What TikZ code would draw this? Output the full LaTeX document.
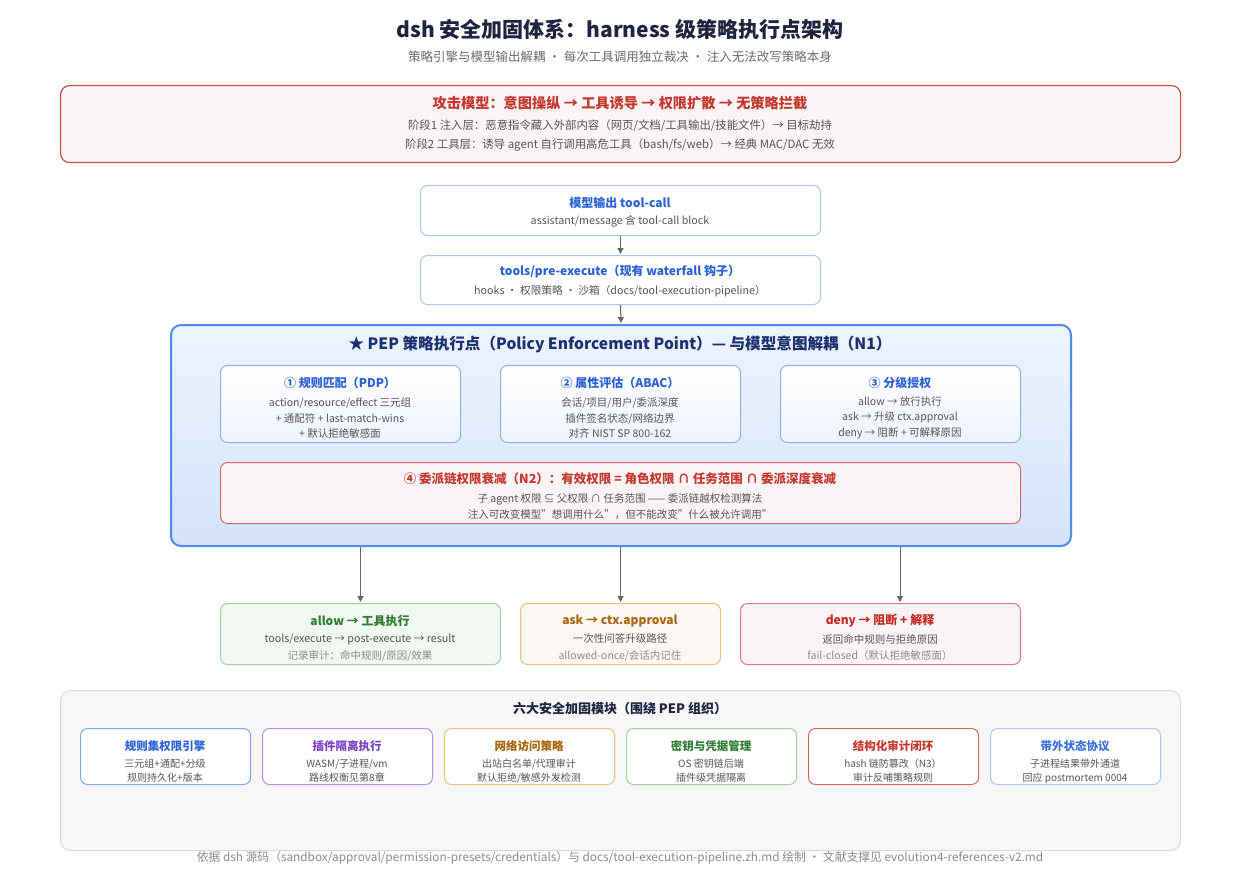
\documentclass[tikz,border=0pt]{standalone}
\usepackage{fontspec}
\setmainfont{Noto Sans CJK SC}
\usetikzlibrary{arrows.meta}
\newcommand\myfs[1]{\fontsize{#1}{#1}\selectfont}
\definecolor{titlec}{HTML}{1F2340}
\definecolor{subc}{HTML}{6B6B6B}
\definecolor{bodyc}{HTML}{555555}
\definecolor{lightc}{HTML}{8A8A8A}
\definecolor{redb}{HTML}{CC4B45}
\definecolor{redf}{HTML}{FBF4F4}
\definecolor{redt}{HTML}{C4372F}
\definecolor{blueb}{HTML}{A8C6F3}
\definecolor{bluet}{HTML}{2A62D4}
\definecolor{pepb}{HTML}{4F8AE6}
\definecolor{peptop}{HTML}{EEF4FD}
\definecolor{pepbot}{HTML}{D4E3FA}
\definecolor{pept}{HTML}{1C2F6E}
\definecolor{subb}{HTML}{8FB2EE}
\definecolor{subbot}{HTML}{EEF3FC}
\definecolor{r4b}{HTML}{CF6D6D}
\definecolor{greenb}{HTML}{9FD1A5}
\definecolor{greenf}{HTML}{F1F8F1}
\definecolor{greent}{HTML}{2E7D32}
\definecolor{orangeb}{HTML}{E8C379}
\definecolor{orangef}{HTML}{FCF7F3}
\definecolor{oranget}{HTML}{A8650B}
\definecolor{denyb}{HTML}{DD7B78}
\definecolor{denyt}{HTML}{C62828}
\definecolor{panelf}{HTML}{F7F7F7}
\definecolor{panelb}{HTML}{D9D9D9}
\definecolor{modblueb}{HTML}{7EA9F0}
\definecolor{modpurpb}{HTML}{B590E6}
\definecolor{modpurpt}{HTML}{7B3FC4}
\definecolor{modredb}{HTML}{D9655F}
\definecolor{modlbb}{HTML}{AAC7F5}
\definecolor{modlbt}{HTML}{3A6FDC}
\definecolor{arrc}{HTML}{666666}
\tikzset{
  card/.style={draw, rounded corners=7pt, line width=1pt, inner sep=0pt, anchor=north west, fill=white},
  txt/.style={inner sep=0pt, anchor=center},
  arr/.style={draw=arrc, line width=1pt, -{Triangle[length=6pt,width=6pt]}},
}
\begin{document}
\begin{tikzpicture}[x=1pt,y=-1pt]
\useasboundingbox[fill=white] (0,0) rectangle (1240,880);
% title
\node[txt, text=titlec, font=\myfs{21}\bfseries] (title) at (620,30) {dsh 安全加固体系：harness 级策略执行点架构};
\node[txt, text=subc, font=\myfs{12.5}] (subtitle) at (620,57) {策略引擎与模型输出解耦 · 每次工具调用独立裁决 · 注入无法改写策略本身};
% attack model
\node[card, draw=redb, fill=redf, rounded corners=9pt, line width=1.2pt, minimum width=1120pt, minimum height=77pt] (attack) at (60,85) {};
\node[txt, text=redt, font=\myfs{14.2}\bfseries] (attackt) at (620,103) {攻击模型：意图操纵 → 工具诱导 → 权限扩散 → 无策略拦截};
\node[txt, text=bodyc, font=\myfs{11.4}] (attack1) at (620,126) {阶段1 注入层：恶意指令藏入外部内容（网页/文档/工具输出/技能文件）→ 目标劫持};
\node[txt, text=bodyc, font=\myfs{11.4}] (attack2) at (620,145) {阶段2 工具层：诱导 agent 自行调用高危工具（bash/fs/web）→ 经典 MAC/DAC 无效};
% model output
\node[card, draw=blueb, minimum width=400pt, minimum height=50pt] (mout) at (420,185) {};
\node[txt, text=bluet, font=\myfs{12}\bfseries] (moutt) at (620,203) {模型输出 tool-call};
\node[txt, text=bodyc, font=\myfs{10.7}] (mouts) at (620,221) {assistant/message 含 tool-call block};
% pre-execute
\node[card, draw=blueb, minimum width=400pt, minimum height=49pt] (pre) at (420,255) {};
\node[txt, text=bluet, font=\myfs{12}\bfseries] (pret) at (620,272) {tools/pre-execute（现有 waterfall 钩子）};
\node[txt, text=bodyc, font=\myfs{10.7}] (pres) at (620,291) {hooks · 权限策略 · 沙箱（docs/tool-execution-pipeline）};
\draw[arr] (mout.south) -- ([yshift=1pt]pre.north);
% PEP
\node[card, draw=pepb, line width=2pt, rounded corners=10pt, top color=peptop, bottom color=pepbot, minimum width=900pt, minimum height=221pt] (pep) at (170,324) {};
\draw[arr] (pre.south) -- ([yshift=1pt]pep.north);
\node[txt, text=pept, font=\myfs{15.6}\bfseries] (pept) at (620,344) {★ PEP 策略执行点（Policy Enforcement Point）— 与模型意图解耦（N1）};
% sub boxes
\node[card, draw=subb, top color=white, bottom color=subbot, minimum width=240pt, minimum height=77pt] (pdp) at (220,365) {};
\node[txt, text=bluet, font=\myfs{12}\bfseries] (pdpt) at (340,383) {① 规则匹配（PDP）};
\node[txt, text=bodyc, font=\myfs{10.5}, align=center] (pdps) at (340,418) {action/resource/effect 三元组\\[4pt]+ 通配符 + last-match-wins\\[4pt]+ 默认拒绝敏感面};
\node[card, draw=subb, top color=white, bottom color=subbot, minimum width=240pt, minimum height=77pt] (abac) at (500,365) {};
\node[txt, text=bluet, font=\myfs{12}\bfseries] (abact) at (620,383) {② 属性评估（ABAC）};
\node[txt, text=bodyc, font=\myfs{10.5}, align=center] (abacs) at (620,418) {会话/项目/用户/委派深度\\[4pt]插件签名状态/网络边界\\[4pt]对齐 NIST SP 800-162};
\node[card, draw=subb, top color=white, bottom color=subbot, minimum width=240pt, minimum height=77pt] (grad) at (780,365) {};
\node[txt, text=bluet, font=\myfs{12}\bfseries] (gradt) at (900,383) {③ 分级授权};
\node[txt, text=bodyc, font=\myfs{10.5}, align=center] (grads) at (900,418) {allow → 放行执行\\[4pt]ask → 升级 ctx.approval\\[4pt]deny → 阻断 + 可解释原因};
% delegation
\node[card, draw=r4b, fill=redf, minimum width=800pt, minimum height=61pt] (deleg) at (220,462) {};
\node[txt, text=redt, font=\myfs{12.5}\bfseries] (delegt) at (620,479) {④ 委派链权限衰减（N2）：有效权限 = 角色权限 ∩ 任务范围 ∩ 委派深度衰减};
\node[txt, text=bodyc, font=\myfs{10.5}] (deleg1) at (620,499) {子 agent 权限 ⊆ 父权限 ∩ 任务范围 —— 委派链越权检测算法};
\node[txt, text=bodyc, font=\myfs{10.5}] (deleg2) at (620,515) {注入可改变模型"想调用什么"，但不能改变"什么被允许调用"};
% outcomes
\node[card, draw=greenb, fill=greenf, minimum width=280pt, minimum height=61pt] (allow) at (220,603) {};
\node[txt, text=greent, font=\myfs{12}\bfseries] (allowt) at (360,621) {allow → 工具执行};
\node[txt, text=bodyc, font=\myfs{10.7}] (allow1) at (360,639) {tools/execute → post-execute → result};
\node[txt, text=lightc, font=\myfs{10.5}] (allow2) at (360,656) {记录审计：命中规则/原因/效果};
\node[card, draw=orangeb, fill=orangef, minimum width=200pt, minimum height=61pt] (ask) at (520,603) {};
\node[txt, text=oranget, font=\myfs{12}\bfseries] (askt) at (620,621) {ask → ctx.approval};
\node[txt, text=bodyc, font=\myfs{10.5}] (ask1) at (620,639) {一次性问答升级路径};
\node[txt, text=lightc, font=\myfs{10.5}] (ask2) at (620,656) {allowed-once/会话内记住};
\node[card, draw=denyb, fill=redf, minimum width=280pt, minimum height=61pt] (deny) at (740,603) {};
\node[txt, text=denyt, font=\myfs{12}\bfseries] (denyt) at (880,621) {deny → 阻断 + 解释};
\node[txt, text=bodyc, font=\myfs{10.5}] (deny1) at (880,639) {返回命中规则与拒绝原因};
\node[txt, text=lightc, font=\myfs{10.5}] (deny2) at (880,656) {fail-closed（默认拒绝敏感面）};
\coordinate (denyin) at (900,603);
\draw[arr] (pep.south -| allow.north) -- ([yshift=1pt]allow.north);
\draw[arr] (pep.south -| ask.north) -- ([yshift=1pt]ask.north);
\draw[arr] (pep.south -| denyin) -- ([yshift=1pt]denyin);
% modules panel
\node[card, draw=panelb, fill=panelf, rounded corners=10pt, minimum width=1120pt, minimum height=160pt] (panel) at (60,690) {};
\node[txt, text=titlec, font=\myfs{13}\bfseries] (panelt) at (620,709) {六大安全加固模块（围绕 PEP 组织）};
\foreach \i/\bc/\tc/\ti/\la/\lb in {
  0/modblueb/bluet/{规则集权限引擎}/{三元组+通配+分级}/{规则持久化+版本},
  1/modpurpb/modpurpt/{插件隔离执行}/{WASM/子进程/vm}/{路线权衡见第8章},
  2/orangeb/oranget/{网络访问策略}/{出站白名单/代理审计}/{默认拒绝/敏感外发检测},
  3/greenb/greent/{密钥与凭据管理}/{OS 密钥链后端}/{插件级凭据隔离},
  4/modredb/redt/{结构化审计闭环}/{hash 链防篡改（N3）}/{审计反哺策略规则},
  5/modlbb/modlbt/{带外状态协议}/{子进程结果带外通道}/{回应 postmortem 0004}}{
  \node[card, draw=\bc, minimum width=170pt, minimum height=56pt] (mod\i) at (80+182*\i,728) {};
  \node[txt, text=\tc, font=\myfs{11.5}\bfseries] (mod\i t) at (165+182*\i,746) {\ti};
  \node[txt, text=bodyc, font=\myfs{10}] (mod\i a) at (165+182*\i,764) {\la};
  \node[txt, text=bodyc, font=\myfs{10}] (mod\i b) at (165+182*\i,778) {\lb};
}
\node[txt, text=lightc, font=\myfs{11.8}] (footer) at (620,858) {依据 dsh 源码（sandbox/approval/permission-presets/credentials）与 docs/tool-execution-pipeline.zh.md 绘制 · 文献支撑见 evolution4-references-v2.md};
\end{tikzpicture}
\end{document}
